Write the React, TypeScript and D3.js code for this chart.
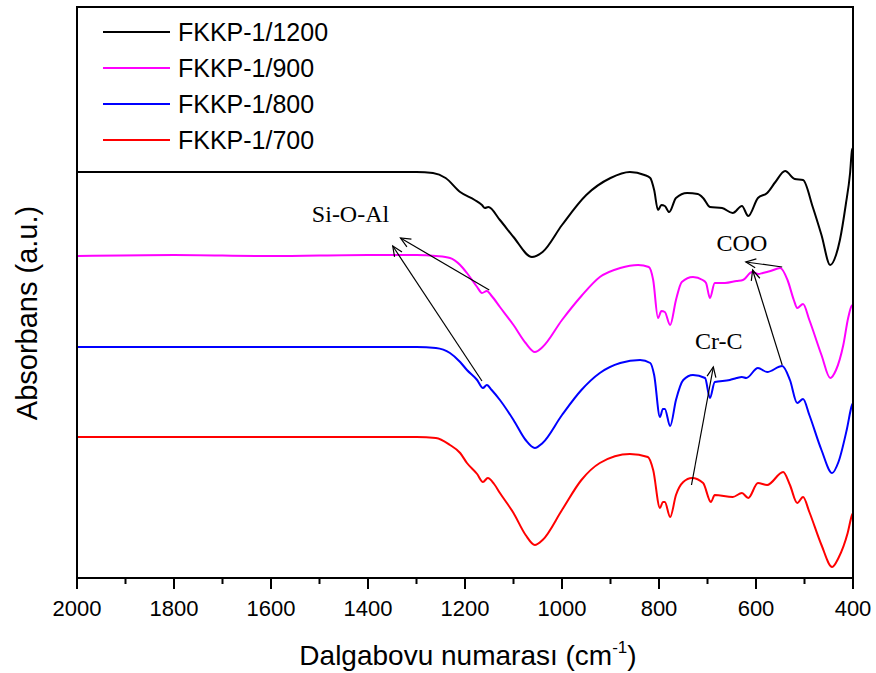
import React from "react";
import * as d3 from "d3";

const seriesNames = ["FKKP-1/1200", "FKKP-1/900", "FKKP-1/800", "FKKP-1/700"];
const seriesColors = ["#000000", "#ff00ff", "#0000ff", "#ff0000"];

// wavenumber (cm-1) and absorbance (a.u., offset stacked)
const wnBlack = [2000, 1800, 1600, 1400, 1300, 1266, 1240, 1210, 1180, 1165, 1159, 1152, 1128, 1100, 1062, 1040, 1000, 950, 900, 860, 830, 818, 810, 802, 795, 788, 779, 765, 742, 720, 709, 695, 670, 648, 629, 616, 596, 577, 560, 540, 520, 503, 483, 465, 447, 435, 427, 415, 406, 402, 400];
const absBlack = [4.01, 4.01, 4.01, 4.01, 4.01, 4.0, 3.95, 3.81, 3.73, 3.68, 3.65, 3.66, 3.53, 3.36, 3.16, 3.21, 3.48, 3.78, 3.95, 4.01, 3.98, 3.95, 3.83, 3.63, 3.68, 3.67, 3.61, 3.75, 3.8, 3.79, 3.75, 3.66, 3.65, 3.6, 3.67, 3.57, 3.75, 3.8, 3.91, 4.02, 3.94, 3.93, 3.66, 3.38, 3.08, 3.18, 3.33, 3.68, 4.0, 4.23, 4.25];

const wnMagenta = [2000, 1800, 1600, 1400, 1300, 1260, 1231, 1210, 1196, 1175, 1165, 1155, 1145, 1128, 1100, 1075, 1056, 1040, 1000, 960, 922, 880, 843, 821, 812, 802, 795, 788, 777, 765, 753, 730, 710, 703, 695, 685, 664, 640, 627, 608, 595, 586, 570, 550, 535, 522, 515, 503, 490, 465, 447, 435, 420, 410, 403, 400];
const absMagenta = [3.17, 3.18, 3.17, 3.18, 3.18, 3.17, 3.15, 3.08, 3.0, 2.86, 2.8, 2.82, 2.77, 2.66, 2.48, 2.3, 2.21, 2.26, 2.53, 2.77, 2.96, 3.05, 3.08, 3.06, 2.93, 2.55, 2.62, 2.61, 2.48, 2.73, 2.91, 2.96, 2.93, 2.9, 2.75, 2.9, 2.9, 2.92, 2.93, 3.01, 2.99, 3.0, 3.02, 3.05, 2.93, 2.73, 2.65, 2.69, 2.53, 2.18, 1.95, 2.03, 2.28, 2.55, 2.67, 2.68];

const wnBlue = [2000, 1800, 1600, 1400, 1300, 1260, 1231, 1210, 1196, 1175, 1163, 1155, 1145, 1128, 1100, 1075, 1056, 1040, 1000, 960, 922, 880, 839, 818, 810, 798, 792, 788, 777, 765, 750, 730, 705, 695, 685, 654, 640, 629, 620, 596, 577, 546, 530, 515, 503, 490, 465, 443, 430, 413, 402, 400];
const absBlue = [2.26, 2.26, 2.26, 2.26, 2.26, 2.25, 2.2, 2.11, 2.03, 1.93, 1.85, 1.88, 1.83, 1.73, 1.53, 1.33, 1.25, 1.3, 1.58, 1.83, 2.0, 2.1, 2.13, 2.1, 1.98, 1.56, 1.64, 1.64, 1.47, 1.73, 1.93, 1.98, 1.95, 1.75, 1.91, 1.93, 1.95, 1.96, 1.95, 2.05, 2.01, 2.07, 1.93, 1.7, 1.74, 1.58, 1.23, 1.0, 1.11, 1.43, 1.68, 1.7];

const wnRed = [2000, 1800, 1600, 1400, 1300, 1260, 1231, 1210, 1196, 1175, 1163, 1153, 1140, 1128, 1100, 1075, 1056, 1040, 1000, 960, 922, 860, 823, 812, 798, 792, 788, 777, 765, 750, 732, 709, 693, 685, 648, 629, 616, 596, 577, 544, 530, 515, 503, 490, 465, 443, 430, 411, 402, 400];
const absRed = [1.36, 1.36, 1.36, 1.36, 1.36, 1.35, 1.28, 1.2, 1.1, 0.99, 0.91, 0.95, 0.89, 0.8, 0.6, 0.38, 0.28, 0.33, 0.63, 0.93, 1.1, 1.19, 1.16, 1.03, 0.65, 0.71, 0.71, 0.56, 0.78, 0.91, 0.95, 0.9, 0.71, 0.78, 0.76, 0.8, 0.75, 0.9, 0.88, 1.01, 0.88, 0.7, 0.76, 0.61, 0.28, 0.06, 0.15, 0.4, 0.58, 0.6];

const xTicks = [2000, 1800, 1600, 1400, 1200, 1000, 800, 600, 400];
const xMinorTicks = [1900, 1700, 1500, 1300, 1100, 900, 700, 500];

// annotation labels: [text, wavenumber, absorbance]
const labelTexts = ["Si-O-Al", "COO", "Cr-C"];
const labelWn = [1436, 629, 677];
const labelAbs = [3.51, 3.22, 2.24];

// arrows: tail -> tip (wavenumber, absorbance)
const arrowTailWn = [1150, 1165, 546, 546, 733];
const arrowTailAbs = [2.83, 1.92, 3.06, 2.08, 0.88];
const arrowTipWn = [1333, 1349, 621, 607, 688];
const arrowTipAbs = [3.35, 3.27, 3.11, 3.03, 2.06];

const W = 876;
const H = 673;
const left = 77, right = 853, top = 7, bottom = 578;

export default function App() {
  const x = d3.scaleLinear().domain([2000, 400]).range([left, right]);
  const y = d3.scaleLinear().domain([-0.05, 5.66]).range([bottom, top]);
  const line = d3
    .line<[number, number]>()
    .x((d) => x(d[0]))
    .y((d) => y(d[1]))
    .curve(d3.curveMonotoneX);

  const series = [
    [wnBlack, absBlack],
    [wnMagenta, absMagenta],
    [wnBlue, absBlue],
    [wnRed, absRed],
  ].map(([w, a]) => w.map((v, i) => [v, a[i]] as [number, number]));

  const sans = "'Liberation Sans', Arial, sans-serif";
  const serif = "'Liberation Serif', 'Times New Roman', serif";

  const arrows = arrowTailWn.map((_, i) => {
    const x1 = x(arrowTailWn[i]);
    const y1 = y(arrowTailAbs[i]);
    const x2 = x(arrowTipWn[i]);
    const y2 = y(arrowTipAbs[i]);
    const ang = Math.atan2(y2 - y1, x2 - x1);
    const L = 11;
    const a = (24 * Math.PI) / 180;
    const hx1 = x2 - L * Math.cos(ang - a);
    const hy1 = y2 - L * Math.sin(ang - a);
    const hx2 = x2 - L * Math.cos(ang + a);
    const hy2 = y2 - L * Math.sin(ang + a);
    return { x1, y1, x2, y2, hx1, hy1, hx2, hy2 };
  });

  return (
    <svg
      width={W}
      height={H}
      style={{ position: "absolute", left: 0, top: 0, background: "#fff" }}
    >
      <rect x={0} y={0} width={W} height={H} fill="#fff" />
      {series.map((d, i) => (
        <path
          key={i}
          d={line(d) || ""}
          fill="none"
          stroke={seriesColors[i]}
          strokeWidth={2}
          strokeLinejoin="round"
        />
      ))}
      {/* frame */}
      <rect
        x={left}
        y={top}
        width={right - left}
        height={bottom - top}
        fill="none"
        stroke="#000"
        strokeWidth={2}
      />
      {/* ticks */}
      {xTicks.map((t) => (
        <g key={"M" + t}>
          <line x1={x(t)} x2={x(t)} y1={bottom} y2={bottom + 11} stroke="#000" strokeWidth={2} />
          <text
            x={x(t)}
            y={616}
            textAnchor="middle"
            fontFamily={sans}
            fontSize={22}
            fill="#000"
          >
            {t}
          </text>
        </g>
      ))}
      {xMinorTicks.map((t) => (
        <line key={"m" + t} x1={x(t)} x2={x(t)} y1={bottom} y2={bottom + 6} stroke="#000" strokeWidth={2} />
      ))}
      {/* axis titles */}
      <text
        x={(left + right) / 2 + 3}
        y={665}
        textAnchor="middle"
        fontFamily={sans}
        fontSize={28}
        fill="#000"
      >
        Dalgabovu numarası (cm
        <tspan fontSize={17} dy={-12}>-1</tspan>
        <tspan dy={12}>)</tspan>
      </text>
      <text
        transform={`translate(37,313) rotate(-90)`}
        textAnchor="middle"
        fontFamily={sans}
        fontSize={29}
        fill="#000"
      >
        Absorbans (a.u.)
      </text>
      {/* legend */}
      {seriesNames.map((n, i) => (
        <g key={n}>
          <line
            x1={103}
            x2={170}
            y1={32 + i * 36}
            y2={32 + i * 36}
            stroke={seriesColors[i]}
            strokeWidth={2}
          />
          <text x={178} y={41 + i * 36} fontFamily={sans} fontSize={25} fill="#000">
            {n}
          </text>
        </g>
      ))}
      {/* annotations */}
      {labelTexts.map((t, i) => (
        <text
          key={t}
          x={x(labelWn[i])}
          y={y(labelAbs[i])}
          textAnchor="middle"
          fontFamily={serif}
          fontSize={24}
          fill="#000"
        >
          {t}
        </text>
      ))}
      {arrows.map((a, i) => (
        <g key={i} stroke="#000" strokeWidth={1.2} fill="none">
          <line x1={a.x1} y1={a.y1} x2={a.x2} y2={a.y2} />
          <polyline points={`${a.hx1},${a.hy1} ${a.x2},${a.y2} ${a.hx2},${a.hy2}`} />
        </g>
      ))}
    </svg>
  );
}
